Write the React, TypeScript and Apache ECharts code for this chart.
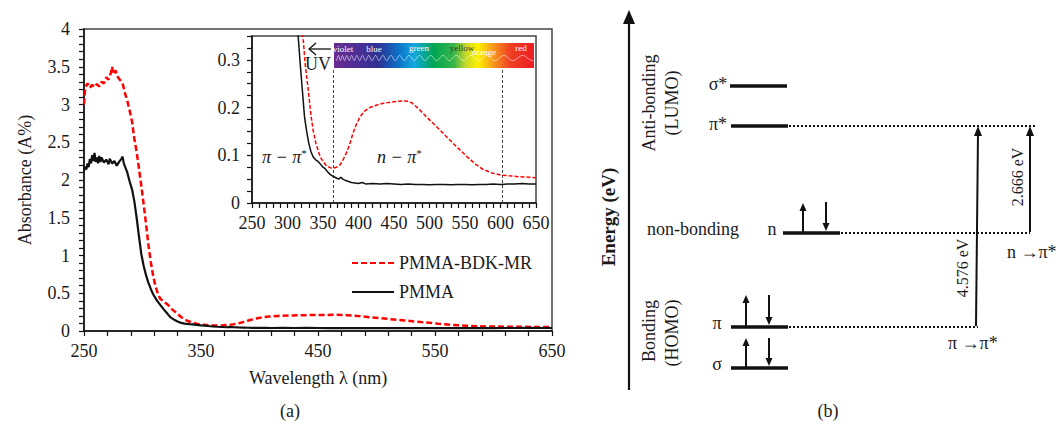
import React, { useEffect, useRef } from 'react';
import * as echarts from 'echarts';

// ---------- data ----------
const redWl = [250,251,253,255,257,259,261,263,265,267,269,271,273,274,275,277,279,281,283,285,287,289,291,293,295,297,299,301,303,305,307,309,311,313,315,318,322,325,329,333,336,340,346,350,355,360,364,369,374,378,383,388,392,397,402,408,416,425,435,445,455,463,470,475,485,496,510,524,538,553,565,576,588,599,612,627,640,650];
const redAbs = [3.00,3.22,3.28,3.22,3.26,3.23,3.27,3.24,3.30,3.28,3.36,3.33,3.42,3.50,3.40,3.45,3.36,3.32,3.28,3.15,3.05,2.92,2.78,2.55,2.37,2.15,1.92,1.68,1.42,1.15,0.92,0.74,0.60,0.50,0.43,0.39,0.345,0.29,0.24,0.185,0.153,0.125,0.097,0.087,0.078,0.074,0.073,0.075,0.080,0.090,0.105,0.125,0.145,0.165,0.180,0.192,0.200,0.205,0.209,0.211,0.213,0.214,0.213,0.210,0.197,0.180,0.160,0.139,0.118,0.097,0.081,0.070,0.063,0.059,0.057,0.055,0.054,0.053];
const blackWl = [250,251,252,253,254,255,256,257,258,259,260,261,262,263,264,265,267,269,271,272,274,276,278,280,282,283,284,285,287,289,291,293,295,297,299,301,303,305,307,309,312,315,318,321,324,327,330,333,336,340,343,346,350,353,356,360,364,368,372,375,378,382,386,390,395,400,405,410,420,430,440,450,460,470,480,490,500,510,520,530,540,550,560,570,580,590,600,610,620,630,640,650];
const blackAbs = [2.12,2.18,2.14,2.22,2.17,2.28,2.22,2.33,2.25,2.36,2.24,2.30,2.22,2.32,2.24,2.30,2.23,2.27,2.21,2.28,2.22,2.25,2.19,2.24,2.28,2.31,2.22,2.18,2.10,1.98,1.88,1.72,1.50,1.25,1.02,0.86,0.74,0.64,0.56,0.49,0.41,0.35,0.29,0.235,0.18,0.15,0.125,0.108,0.097,0.09,0.087,0.082,0.075,0.072,0.066,0.060,0.056,0.053,0.050,0.054,0.050,0.047,0.045,0.043,0.042,0.041,0.043,0.040,0.041,0.040,0.041,0.040,0.039,0.040,0.039,0.039,0.038,0.039,0.039,0.038,0.039,0.039,0.038,0.039,0.039,0.040,0.039,0.040,0.040,0.041,0.040,0.040];

const seriesNames = ['PMMA-BDK-MR', 'PMMA'];
const boundaryWl = [364, 602];          // dashed vertical markers in inset
const boundaryTop = 0.28;
const spectrumLabels = ['violet', 'blue', 'green', 'yellow', 'orange', 'red'];
const transitionEnergies = ['4.576 eV', '2.666 eV'];

const FONT = "'Liberation Serif', 'Times New Roman', serif";
const TXT = '#1a1a1a';

const pairs = (xs: number[], ys: number[]) => xs.map((x, i) => [x, ys[i]]);

function txt(text: string, x: number, y: number, o: any = {}) {
  return {
    type: 'text', x, y, rotation: o.rot || 0, z: 100,
    style: {
      text, fill: o.fill || TXT, fontSize: o.size || 18, fontFamily: o.family || FONT,
      fontWeight: o.weight || 'normal', fontStyle: o.style || 'normal',
      align: o.align || 'center', verticalAlign: 'middle', rich: o.rich,
    },
  };
}
function ln(x1: number, y1: number, x2: number, y2: number, w = 2, dash?: number[], color = '#111') {
  return { type: 'line', z: 100, shape: { x1, y1, x2, y2 }, style: { stroke: color, lineWidth: w, lineDash: dash } };
}
function upArrow(x: number, yb: number, yt: number, w = 2, hw = 3.5, hl = 8) {
  return [ln(x, yb, x, yt + hl - 1, w), { type: 'polygon', z: 100, shape: { points: [[x, yt], [x - hw, yt + hl], [x + hw, yt + hl]] }, style: { fill: '#111' } }];
}
function downArrow(x: number, yt: number, yb: number, w = 2, hw = 3.5, hl = 8) {
  return [ln(x, yt, x, yb - hl + 1, w), { type: 'polygon', z: 100, shape: { points: [[x, yb], [x - hw, yb - hl], [x + hw, yb - hl]] }, style: { fill: '#111' } }];
}

function buildGraphic() {
  const g: any[] = [];
  // spectrum strip
  const sx = 334, sy = 43, sw = 200, sh = 25;
  g.push({
    type: 'rect', z: 100, shape: { x: sx, y: sy, width: sw, height: sh },
    style: {
      fill: new echarts.graphic.LinearGradient(0, 0, 1, 0, [
        { offset: 0, color: '#6b2c91' }, { offset: 0.12, color: '#4a2f96' },
        { offset: 0.22, color: '#2e3192' }, { offset: 0.32, color: '#0d6fc6' },
        { offset: 0.4, color: '#12a8e0' }, { offset: 0.5, color: '#00a651' },
        { offset: 0.6, color: '#3bb54a' }, { offset: 0.66, color: '#c8d92a' },
        { offset: 0.72, color: '#fff200' }, { offset: 0.8, color: '#f7941d' },
        { offset: 0.88, color: '#ef4123' }, { offset: 1, color: '#ed1c24' },
      ]),
    },
  });
  // wave drawn on the strip (decoration)
  const pts: number[][] = [];
  let phase = 0;
  for (let x = sx + 2; x <= sx + sw - 1; x += 0.5) {
    const t = (x - sx) / sw;
    const period = 3.5 + 17 * t;
    phase += (2 * Math.PI * 0.5) / period;
    pts.push([x, sy + 15 + 2.6 * Math.sin(phase)]);
  }
  g.push({ type: 'polyline', z: 101, shape: { points: pts }, style: { stroke: 'rgba(255,255,255,0.7)', lineWidth: 0.8, fill: null } });
  const lx = [343, 374, 419, 462, 484, 521];
  const ly = [49, 49, 48, 48, 52, 48];
  spectrumLabels.forEach((s, i) => {
    g.push({ ...txt(s, lx[i], ly[i], { size: 9, fill: s === 'yellow' ? '#333' : '#fff' }), z: 102 });
  });
  // UV arrow
  g.push(ln(309, 49, 331, 49, 1.3));
  g.push({ type: 'polyline', z: 100, shape: { points: [[316, 43], [309, 49], [316, 55]] }, style: { stroke: '#111', lineWidth: 1.3, fill: null } });
  g.push(txt('UV', 318, 64, { size: 18 }));
  // transition labels in inset
  const rich = { a: { fontSize: 18, fontFamily: FONT, fontStyle: 'italic', fill: TXT }, s: { fontSize: 11, fontFamily: FONT, fill: TXT, verticalAlign: 'top', padding: [0, 0, 8, 0] } };
  g.push(txt('{a|π − π}{s|*}', 262, 157, { align: 'left', rich }));
  g.push(txt('{a|n − π}{s|*}', 377, 157, { align: 'left', rich }));
  // panel captions
  g.push(txt('(a)', 290, 411));
  g.push(txt('(b)', 828, 411));

  // ---------- panel (b): energy diagram ----------
  g.push(ln(629, 390, 629, 22, 2.2));
  g.push({ type: 'polygon', z: 100, shape: { points: [[629, 10], [623, 24], [635, 24]] }, style: { fill: '#111' } });
  g.push(txt('Energy (eV)', 608, 217, { rot: Math.PI / 2, size: 19, weight: 'bold' }));
  g.push(txt('Anti-bonding', 649, 103, { rot: Math.PI / 2 }));
  g.push(txt('(LUMO)', 672, 103, { rot: Math.PI / 2 }));
  g.push(txt('Bonding', 649, 331, { rot: Math.PI / 2 }));
  g.push(txt('(HOMO)', 672, 333, { rot: Math.PI / 2 }));

  // levels
  g.push(ln(730, 86, 787, 86, 3.5));
  g.push(txt('σ*', 718, 84, { size: 18 }));
  g.push(ln(731, 126, 788, 126, 3.5));
  g.push(ln(789, 126, 1037, 126, 2, [2, 2]));
  g.push(txt('π*', 718, 124, { size: 18 }));
  g.push(ln(783, 233, 840, 233, 3.5));
  g.push(ln(841, 233, 1030, 233, 2, [2, 2]));
  g.push(txt('n', 772, 229));
  g.push(txt('non-bonding', 647, 229, { align: 'left' }));
  g.push(ln(731, 327, 788, 327, 3.5));
  g.push(ln(789, 327, 978, 327, 2, [2, 2]));
  g.push(txt('π', 717, 323));
  g.push(ln(731, 368, 788, 368, 3.5));
  g.push(txt('σ', 717, 364));

  // electron spins
  g.push(...upArrow(803, 232, 203), ...downArrow(826, 202, 231));
  g.push(...upArrow(746, 326, 295), ...downArrow(769, 295, 325));
  g.push(...upArrow(746, 367, 338), ...downArrow(769, 338, 366));

  // transitions
  g.push(ln(976, 326, 978, 133, 2));
  g.push({ type: 'polygon', z: 100, shape: { points: [[978, 126], [974, 136], [982, 136]] }, style: { fill: '#111' } });
  g.push(ln(1030, 232, 1030, 133, 2));
  g.push({ type: 'polygon', z: 100, shape: { points: [[1030, 126], [1026, 136], [1034, 136]] }, style: { fill: '#111' } });
  g.push(txt(transitionEnergies[0], 962, 268, { rot: Math.PI / 2, size: 16 }));
  g.push(txt(transitionEnergies[1], 1017, 177, { rot: Math.PI / 2, size: 16 }));
  g.push(txt('n →π*', 1007, 252, { align: 'left' }));
  g.push(txt('π →π*', 948, 343, { align: 'left' }));
  return g;
}

const axisCommon = (fontSize = 18, margin = 11) => ({
  type: 'value',
  axisLine: { show: true, lineStyle: { color: '#111', width: 1.5 } },
  axisTick: { show: true, length: 5, lineStyle: { color: '#111', width: 1.2 } },
  minorTick: { show: true, length: 5, lineStyle: { color: '#111', width: 1.2 } },
  splitLine: { show: false },
  minorSplitLine: { show: false },
  axisLabel: { fontSize, fontFamily: FONT, color: TXT, margin },
});

export default function App() {
  const ref = useRef<HTMLDivElement>(null);
  useEffect(() => {
    if (!ref.current) return;
    const chart = echarts.init(ref.current, undefined, { renderer: 'svg' });
    const red = pairs(redWl, redAbs);
    const black = pairs(blackWl, blackAbs);
    const option: any = {
      animation: false,
      backgroundColor: '#fff',
      grid: [
        { left: 84, top: 29, width: 468, height: 302, show: true, borderColor: '#444', borderWidth: 1.5 },
        { left: 252, top: 36, width: 284, height: 167, show: true, borderColor: '#444', borderWidth: 1.5, backgroundColor: '#fff', z: 3 },
      ],
      xAxis: [
        {
          ...axisCommon(18, 11), gridIndex: 0, min: 250, max: 650, interval: 100,
          minorTick: { show: true, splitNumber: 5, length: 5, lineStyle: { color: '#111', width: 1.2 } },
          name: 'Wavelength λ (nm)', nameLocation: 'middle', nameGap: 38,
          nameTextStyle: { fontSize: 18, fontFamily: FONT, color: TXT },
        },
        {
          ...axisCommon(18, 11), gridIndex: 1, min: 250, max: 650, interval: 50,
          minorTick: { show: true, splitNumber: 5, length: 5, lineStyle: { color: '#111', width: 1.2 } },
          z: 4,
        },
      ],
      yAxis: [
        {
          ...axisCommon(18, 14), gridIndex: 0, min: 0, max: 4, interval: 0.5,
          minorTick: { show: true, splitNumber: 5, length: 5, lineStyle: { color: '#111', width: 1.2 } },
          name: 'Absorbance (A%)', nameLocation: 'middle', nameGap: 50,
          nameTextStyle: { fontSize: 18, fontFamily: FONT, color: TXT },
        },
        {
          ...axisCommon(18, 12), gridIndex: 1, min: 0, max: 0.35, interval: 0.1,
          minorTick: { show: true, splitNumber: 4, length: 5, lineStyle: { color: '#111', width: 1.2 } },
          axisLabel: { fontSize: 18, fontFamily: FONT, color: TXT, margin: 12, showMaxLabel: false },
          z: 4,
        },
      ],
      legend: {
        data: seriesNames, orient: 'vertical', left: 351, top: 254, padding: 0,
        itemWidth: 42, itemHeight: 14, itemGap: 11,
        itemStyle: { opacity: 0 },
        textStyle: { fontSize: 18, fontFamily: FONT, color: TXT, lineHeight: 18 },
      },
      series: [
        {
          name: seriesNames[0], type: 'line', xAxisIndex: 0, yAxisIndex: 0, data: red, symbol: 'none',
          lineStyle: { color: '#ff0000', width: 2.5, type: [6, 3] }, itemStyle: { color: '#ff0000' }, z: 2,
        },
        {
          name: seriesNames[1], type: 'line', xAxisIndex: 0, yAxisIndex: 0, data: black, symbol: 'none',
          lineStyle: { color: '#111', width: 2.2 }, itemStyle: { color: '#111' }, z: 2,
        },
        {
          name: 'inset-red', type: 'line', xAxisIndex: 1, yAxisIndex: 1, data: red, symbol: 'none', clip: true,
          lineStyle: { color: '#ff0000', width: 1.5, type: [4, 2] }, z: 5,
          markLine: {
            silent: true, symbol: ['none', 'none'], label: { show: false },
            lineStyle: { color: '#444', width: 1, type: [3, 2] },
            data: boundaryWl.map((w) => [{ coord: [w, 0] }, { coord: [w, boundaryTop] }]),
          },
        },
        {
          name: 'inset-black', type: 'line', xAxisIndex: 1, yAxisIndex: 1, data: black, symbol: 'none', clip: true,
          lineStyle: { color: '#111', width: 1.5 }, z: 5,
        },
      ],
      graphic: buildGraphic(),
    };
    chart.setOption(option);
    return () => chart.dispose();
  }, []);
  return <div ref={ref} style={{ position: 'fixed', left: 0, top: 0, width: 1062, height: 425 }} />;
}
